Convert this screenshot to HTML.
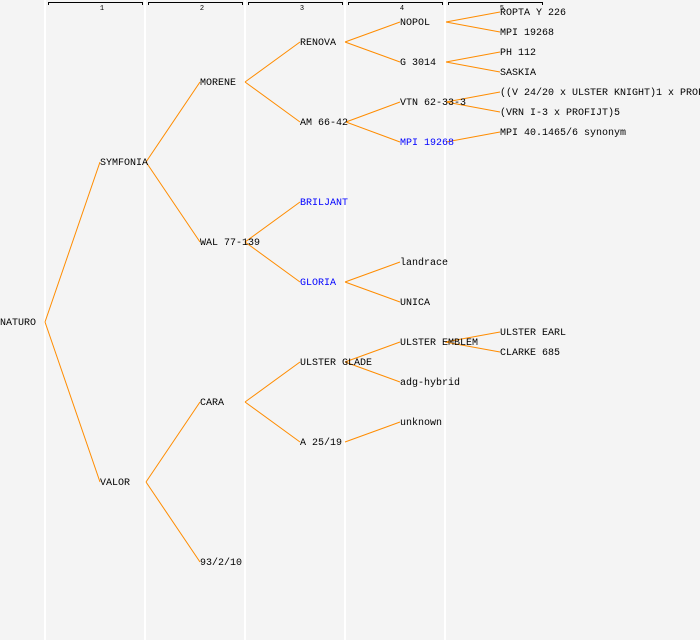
<!DOCTYPE html>
<html><head><style>body{margin:0;background:#f4f4f4}svg{display:block}</style></head><body>
<svg width="700" height="640" xmlns="http://www.w3.org/2000/svg" font-family="Liberation Mono, monospace" font-size="10">
<rect width="700" height="640" fill="#f4f4f4"/>
<g stroke="#fff" stroke-width="2">
<line x1="45" y1="0" x2="45" y2="640"/><line x1="145" y1="0" x2="145" y2="640"/><line x1="245" y1="0" x2="245" y2="640"/><line x1="345" y1="0" x2="345" y2="640"/><line x1="445" y1="0" x2="445" y2="640"/>
</g>
<g stroke="#000" fill="none" stroke-width="1">
<path d="M48.5 5V2.5H142.5V5"/><path d="M148.5 5V2.5H242.5V5"/><path d="M248.5 5V2.5H342.5V5"/><path d="M348.5 5V2.5H442.5V5"/><path d="M448.5 5V2.5H542.5V5"/>
</g>
<g font-size="7" text-anchor="middle" fill="#000">
<text x="102" y="10">1</text><text x="202" y="10">2</text><text x="302" y="10">3</text><text x="402" y="10">4</text><text x="502" y="10">5</text>
</g>
<g stroke="#ff8c00" stroke-width="1" fill="none">
<path d="M45 322L100 162M45 322L100 482"/>
<path d="M146 162L200 82M146 162L200 242M146 482L200 402M146 482L200 562"/>
<path d="M245 82L300 42M245 82L300 122M245 242L300 202M245 242L300 282M245 402L300 362M245 402L300 442"/>
<path d="M345 42L400 22M345 42L400 62M346 122L400 102M346 122L400 142M345 282L400 262M345 282L400 302M345 362L400 342M345 362L400 382M345 442L400 422"/>
<path d="M446 22L500 12M446 22L500 32M446 62L500 52M446 62L500 72M446 102L500 92M446 102L500 112M446 142L500 132M445 342L500 332M445 342L500 352"/>
</g>
<g fill="#000" dominant-baseline="central" transform="translate(0,1.5)">
<text x="0" y="322">NATURO</text>
<text x="100" y="162">SYMFONIA</text><text x="100" y="482">VALOR</text>
<text x="200" y="82">MORENE</text><text x="200" y="242">WAL 77-139</text><text x="200" y="402">CARA</text><text x="200" y="562">93/2/10</text>
<text x="300" y="42">RENOVA</text><text x="300" y="122">AM 66-42</text><text x="300" y="202" fill="#0000ff">BRILJANT</text><text x="300" y="282" fill="#0000ff">GLORIA</text><text x="300" y="362">ULSTER GLADE</text><text x="300" y="442">A 25/19</text>
<text x="400" y="22">NOPOL</text><text x="400" y="62">G 3014</text><text x="400" y="102">VTN 62-33-3</text><text x="400" y="142" fill="#0000ff">MPI 19268</text><text x="400" y="262">landrace</text><text x="400" y="302">UNICA</text><text x="400" y="342">ULSTER EMBLEM</text><text x="400" y="382">adg-hybrid</text><text x="400" y="422">unknown</text>
<text x="500" y="12">ROPTA Y 226</text><text x="500" y="32">MPI 19268</text><text x="500" y="52">PH 112</text><text x="500" y="72">SASKIA</text><text x="500" y="92">((V 24/20 x ULSTER KNIGHT)1 x PROFIJT</text><text x="500" y="112">(VRN I-3 x PROFIJT)5</text><text x="500" y="132">MPI 40.1465/6 synonym</text><text x="500" y="332">ULSTER EARL</text><text x="500" y="352">CLARKE 685</text>
</g>
</svg>
</body></html>
